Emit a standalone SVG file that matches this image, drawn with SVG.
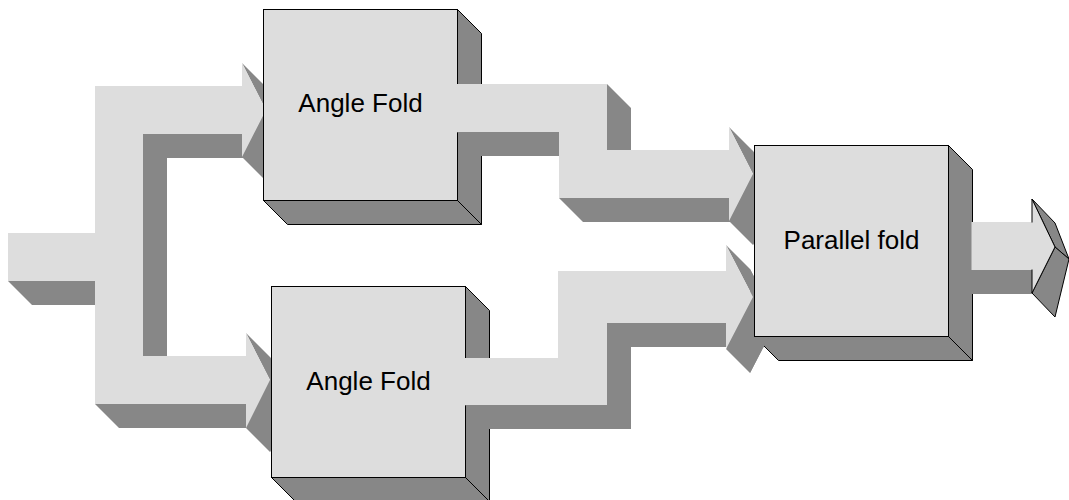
<svg xmlns="http://www.w3.org/2000/svg" xmlns:xlink="http://www.w3.org/1999/xlink" width="1069" height="500" viewBox="0 0 1069 500">
<style>
.lt{fill:#dddddd}
.dk{fill:#878787}
.face{fill:#dddddd;stroke:#000;stroke-width:1}
.side{fill:#878787;stroke:#000;stroke-width:1;stroke-linejoin:miter}
.head{stroke:#000;stroke-width:1;stroke-linejoin:round}
.lbl{font-family:"Liberation Sans",Arial,sans-serif;font-size:26px;fill:#000;text-anchor:middle}
</style>
<defs>
<clipPath id="clipFork"><path clip-rule="evenodd" d="M0,0H1069V500H0Z M263,9H458V201H263Z M271,286H466V478H271Z"/></clipPath>
<clipPath id="clipJoin"><path clip-rule="evenodd" d="M0,0H1069V500H0Z M754,145H949V337H754Z"/></clipPath>
<polygon id="fork" points="8,233 95,233 95,86 242,86 242,63 266,110 242,157 242,134 143,134 143,356 246,356 246,333 270,380 246,428 246,404 95,404 95,281 8,281"/>
<polygon id="upper" points="457,84 607,84 607,150 729,150 729,127 753,174 729,221 729,198 559,198 559,132 457,132"/>
<polygon id="lower" points="465,358 558,358 558,271 726,271 726,245 753,297 726,349 726,323 607,323 607,405 465,405"/>
</defs>
<rect width="1069" height="500" fill="#ffffff"/>

<g id="node-angle-fold-top">
<polygon class="side" points="457.5,9.5 481.5,33.5 481.5,224.5 457.5,200.5"/>
<polygon class="side" points="263.5,200.5 457.5,200.5 481.5,224.5 287.5,224.5"/>
<rect class="face" x="263.5" y="9.5" width="194" height="191"/>
<text class="lbl" x="360.5" y="112">Angle Fold</text>
</g>

<g id="node-angle-fold-bottom">
<polygon class="side" points="465.5,286.5 489.5,310.5 489.5,501.5 465.5,477.5"/>
<polygon class="side" points="271.5,477.5 465.5,477.5 489.5,501.5 295.5,501.5"/>
<rect class="face" x="271.5" y="286.5" width="194" height="191"/>
<text class="lbl" x="368.5" y="390">Angle Fold</text>
</g>

<g id="node-parallel-fold">
<polygon class="side" points="948.5,145.5 972.5,169.5 972.5,360.5 948.5,336.5"/>
<polygon class="side" points="754.5,336.5 948.5,336.5 972.5,360.5 778.5,360.5"/>
<rect class="face" x="754.5" y="145.5" width="194" height="191"/>
<text class="lbl" x="851.5" y="249">Parallel fold</text>
</g>

<g id="connectors">
<g id="edge-input-fork" clip-path="url(#clipFork)">
<g class="dk">
<polygon points="242,63 266,110 290,134 266,87"/>
<polygon points="266,110 242,157 266,181 290,134"/>
<polygon points="242,134 143,134 167,158 266,158"/>
<polygon points="143,134 143,356 167,380 167,158"/>
<polygon points="246,333 270,380 294,404 270,357"/>
<polygon points="270,380 246,428 270,452 294,404"/>
<polygon points="246,404 95,404 119,428 270,428"/>
<polygon points="95,281 8,281 32,305 119,305"/>
<use href="#fork" xlink:href="#fork" transform="translate(24,24)"/>
</g>
<use class="lt" href="#fork" xlink:href="#fork"/>
</g>

<g id="edge-top-to-parallel" clip-path="url(#clipJoin)">
<g class="dk">
<polygon points="607,84 607,150 631,174 631,108"/>
<polygon points="729,127 753,174 777,198 753,151"/>
<polygon points="753,174 729,221 753,245 777,198"/>
<polygon points="729,198 559,198 583,222 753,222"/>
<polygon points="559,132 457,132 481,156 583,156"/>
<use href="#upper" xlink:href="#upper" transform="translate(24,24)"/>
</g>
<use class="lt" href="#upper" xlink:href="#upper"/>
</g>

<g id="edge-bottom-to-parallel" clip-path="url(#clipJoin)">
<g class="dk">
<polygon points="726,245 753,297 777,321 750,269"/>
<polygon points="753,297 726,349 750,373 777,321"/>
<polygon points="726,323 607,323 631,347 750,347"/>
<polygon points="607,323 607,405 631,429 631,347"/>
<polygon points="607,405 465,405 489,429 631,429"/>
<use href="#lower" xlink:href="#lower" transform="translate(24,24)"/>
</g>
<use class="lt" href="#lower" xlink:href="#lower"/>
</g>

<g id="edge-output">
<rect class="dk" x="971.5" y="270" width="61" height="24"/>
<rect class="lt" x="971.5" y="222" width="61" height="48"/>
<polygon class="dk head" points="1032,199 1055,223 1069,259 1055,247"/>
<polygon class="dk head" points="1055,247 1069,259 1055,317 1032,293"/>
<polygon class="lt head" points="1032,199 1055,247 1032,293"/>
<rect class="lt" x="1030" y="222.5" width="4" height="47"/>
</g>
</g>
</svg>
